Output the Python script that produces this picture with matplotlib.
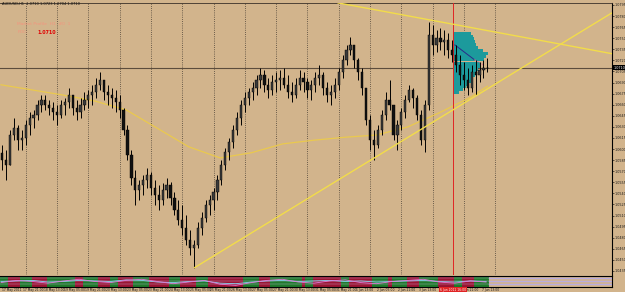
import matplotlib
matplotlib.use('Agg')
import matplotlib.pyplot as plt
import matplotlib.transforms as mtransforms
import numpy as np

# ---------------- data ----------------
symbol = "AUDUSD,H1"
header_quotes = ["1.0710", "1.0723", "1.0704", "1.0710"]

bar_hours = 3            # each candle covers 3 hourly bars
first_open = 1.0595

highs = [1.0605,1.0599,1.0626,1.0642,1.0633,1.0626,1.0639,1.0650,1.0653,1.0666,
         1.0673,1.0673,1.0666,1.0664,1.0660,1.0666,1.0669,1.0683,1.0673,1.0666,
         1.0669,1.0677,1.0680,1.0687,1.0696,1.0704,1.0694,1.0687,1.0683,1.0680,
         1.0673,1.0656,1.0633,1.0599,1.0572,1.0558,1.0565,1.0574,1.0569,1.0558,
         1.0551,1.0554,1.0561,1.0555,1.0542,1.0531,1.0524,1.0511,1.0490,1.0477,
         1.0501,1.0515,1.0531,1.0538,1.0547,1.0565,1.0585,1.0601,1.0615,1.0633,
         1.0650,1.0666,1.0677,1.0683,1.0691,1.0700,1.0710,1.0707,1.0696,1.0700,
         1.0704,1.0707,1.0710,1.0700,1.0691,1.0696,1.0707,1.0704,1.0696,1.0694,
         1.0704,1.0714,1.0704,1.0691,1.0687,1.0696,1.0710,1.0727,1.0741,1.0752,
         1.0741,1.0723,1.0710,1.0680,1.0646,1.0626,1.0633,1.0653,1.0677,1.0694,
         1.0660,1.0639,1.0656,1.0673,1.0687,1.0683,1.0673,1.0653,1.0666,1.0772,
         1.0768,1.0761,1.0764,1.0761,1.0757,1.0748,1.0741,1.0727,1.0718,1.0710,
         1.0714,1.0721,1.0718,1.0721,1.0723]

lows = [1.0572,1.0558,1.0578,1.0612,1.0599,1.0599,1.0605,1.0619,1.0628,1.0639,
        1.0650,1.0653,1.0646,1.0639,1.0633,1.0642,1.0646,1.0656,1.0646,1.0639,
        1.0642,1.0653,1.0656,1.0660,1.0669,1.0680,1.0666,1.0660,1.0656,1.0650,
        1.0642,1.0619,1.0585,1.0551,1.0524,1.0531,1.0538,1.0547,1.0538,1.0524,
        1.0517,1.0524,1.0534,1.0524,1.0511,1.0497,1.0484,1.0470,1.0457,1.0439,
        1.0466,1.0484,1.0501,1.0511,1.0517,1.0531,1.0551,1.0572,1.0585,1.0601,
        1.0619,1.0633,1.0650,1.0660,1.0666,1.0673,1.0683,1.0677,1.0669,1.0673,
        1.0677,1.0680,1.0683,1.0669,1.0664,1.0669,1.0680,1.0677,1.0669,1.0666,
        1.0677,1.0687,1.0673,1.0664,1.0660,1.0669,1.0680,1.0696,1.0714,1.0727,
        1.0710,1.0694,1.0673,1.0633,1.0599,1.0585,1.0601,1.0619,1.0639,1.0653,
        1.0612,1.0599,1.0626,1.0642,1.0664,1.0656,1.0639,1.0605,1.0596,1.0653,
        1.0727,1.0731,1.0734,1.0727,1.0723,1.0718,1.0704,1.0687,1.0680,1.0673,
        1.0677,1.0673,1.0691,1.0696,1.0704]

closes = [1.0585,1.0578,1.0619,1.0628,1.0612,1.0615,1.0633,1.0642,1.0646,1.0660,
          1.0666,1.0660,1.0656,1.0650,1.0646,1.0660,1.0664,1.0673,1.0656,1.0650,
          1.0660,1.0666,1.0673,1.0677,1.0687,1.0694,1.0677,1.0673,1.0669,1.0664,
          1.0653,1.0626,1.0592,1.0561,1.0545,1.0551,1.0558,1.0565,1.0547,1.0538,
          1.0531,1.0545,1.0551,1.0534,1.0517,1.0504,1.0493,1.0477,1.0466,1.0470,
          1.0493,1.0507,1.0524,1.0531,1.0542,1.0558,1.0578,1.0596,1.0610,1.0626,
          1.0642,1.0660,1.0669,1.0677,1.0683,1.0694,1.0700,1.0687,1.0680,1.0691,
          1.0694,1.0696,1.0687,1.0677,1.0673,1.0687,1.0696,1.0691,1.0680,1.0687,
          1.0696,1.0700,1.0683,1.0673,1.0677,1.0687,1.0704,1.0721,1.0734,1.0741,
          1.0721,1.0704,1.0683,1.0639,1.0612,1.0605,1.0626,1.0646,1.0666,1.0660,
          1.0619,1.0633,1.0650,1.0666,1.0680,1.0669,1.0646,1.0612,1.0660,1.0754,
          1.0741,1.0750,1.0745,1.0748,1.0734,1.0727,1.0714,1.0700,1.0694,1.0683,
          1.0704,1.0700,1.0707,1.0710,1.0710]

# moving average at hour positions
ma_hours = [0, 24, 48, 72, 96, 120, 144, 168, 192, 216, 240, 264, 288, 312, 336, 360, 373]
ma_values = [1.0687, 1.0680, 1.0673, 1.0665, 1.0653, 1.0628, 1.0603, 1.0588, 1.0595,
             1.0607, 1.0612, 1.0616, 1.0619, 1.0630, 1.0649, 1.0670, 1.0685]

# trend lines: two anchor points each (hour, price)
trend_down = [(258, 1.0798), (346.6, 1.0769)]
trend_up = [(148, 1.0439), (346.6, 1.0653)]

# session start marker / market profile
profile_start_hour = 346.6
profile_prices = [1.0757, 1.0753, 1.0749, 1.0745, 1.0741, 1.0737, 1.0733, 1.0729, 1.0725,
                  1.0721, 1.0716, 1.0712, 1.0708, 1.0704, 1.0700, 1.0696, 1.0692, 1.0688,
                  1.0684, 1.0680, 1.0676]
profile_counts = [14, 15, 16, 17, 18, 19, 23, 27, 25, 24, 21, 21, 19, 18, 17, 15, 14, 12, 10, 8, 5]
profile_bin = 0.0004
poc_line_hours = [348, 363]
poc_line_prices = [1.0741, 1.0721]
poc_dash_hours = [363, 370]
poc_dash_prices = [1.0721, 1.0714]

last_price = 1.0710

# x-axis labels every 16 hourly bars
xtick_labels = ["17 May 2011", "17 May 21:00", "18 May 13:00", "19 May 05:00", "19 May 21:00",
                "20 May 13:00", "23 May 05:00", "23 May 21:00", "24 May 13:00", "25 May 05:00",
                "25 May 21:00", "26 May 13:00", "27 May 05:00", "27 May 21:00", "30 May 13:00",
                "31 May 05:00", "31 May 21:00", "1 Jun 13:00", "2 Jun 05:00", "2 Jun 21:00",
                "3 Jun 13:00", "6 Jun 05:00", "6 Jun 21:00", "7 Jun 13:00"]
xtick_step = 16
day_break_hours = [19, 43, 67, 91, 115, 139, 163, 187, 211, 235, 259, 283, 307, 331, 355, 379]
cursor_label = "6 Jun 2011 16:00"

ytick_top = 1.0795
ytick_step = 0.0015
ytick_count = 25

# indicator panel state per candle (G = green, R = red)
ind_states = ("GGRRRGGGRR" "RRGGGGGGGR" "RGGGGRRRGG" "RRRRGGGGRR" "RRRGGGRRRR"
              "GGGRRRRRRR" "RRGGGGRRRG" "GGGGGGGRGG" "RRRRRRRGGR" "RRRRRGGGGR"
              "GGGGRRRGGG" "GGRRRRGGRR" "RGGGG")
ind_line_hours = list(range(0, 373, 12))
ind_cyan = [0.5, 0.55, 0.6, 0.45, 0.5, 0.6, 0.55, 0.5, 0.65, 0.6, 0.45, 0.4, 0.5, 0.55, 0.35, 0.3,
            0.45, 0.55, 0.6, 0.5, 0.55, 0.6, 0.5, 0.55, 0.45, 0.5, 0.55, 0.6, 0.5, 0.45, 0.55, 0.5]
ind_pink = [0.4, 0.6, 0.5, 0.35, 0.55, 0.7, 0.5, 0.4, 0.6, 0.7, 0.5, 0.3, 0.45, 0.6, 0.25, 0.15,
            0.4, 0.6, 0.7, 0.45, 0.35, 0.55, 0.65, 0.4, 0.3, 0.5, 0.6, 0.7, 0.45, 0.35, 0.55, 0.45]
ind_levels = [0.3, 0.55, 0.8]

# ---------------- style ----------------
BG = '#D2B48C'
YEL = '#F2DC4A'
W, H = 625, 292
fig = plt.figure(figsize=(W / 100, H / 100), dpi=100, facecolor=BG)

px_per_hour = 1.304
x0_hour = -1.0 / px_per_hour
x1_hour = (612 - 1) / px_per_hour

ax = fig.add_axes([0, 1 - 275 / H, 612 / W, 272 / H], facecolor=BG)
ax.set_xlim(x0_hour, x1_hour)
ax.set_ylim(1.04295, 1.07977)

n = len(closes)
centers = np.arange(n) * bar_hours + 1
opens = np.array([first_open] + closes[:-1])
c = np.array(closes)
hi = np.maximum(np.array(highs), np.maximum(opens, c))
lo = np.minimum(np.array(lows), np.minimum(opens, c))
data_end = centers[-1] + bar_hours / 2

# grid
for h in day_break_hours:
    ax.axvline(h, color='#4a4036', lw=0.6, ls=(0, (1, 1.6)), zorder=1)

# moving average
ax.plot(ma_hours, ma_values, color='#EAC94E', lw=0.9, zorder=2)

# market profile
ax.barh(profile_prices, profile_counts, height=profile_bin, left=profile_start_hour,
        color='#1C9A9C', edgecolor='none', zorder=3)
ax.plot(poc_line_hours, poc_line_prices, color='#2a2a8a', lw=0.7, zorder=5)
ax.plot(poc_dash_hours, poc_dash_prices, color='#e07090', lw=0.7, ls=(0, (2, 1)), zorder=5)

# cursor line
ax.axvline(profile_start_hour, color='#E02424', lw=0.7, zorder=4)

# last price line
ax.axhline(last_price, color='#5c4c3c', lw=0.8, zorder=2)

# candles
ax.vlines(centers, lo, hi, color='black', lw=0.7, zorder=6)
bw = 1.7
for xc, o, cl in zip(centers, opens, c):
    bottom = min(o, cl)
    height = max(abs(cl - o), 0.00003)
    fc = '#111111' if cl < o else '#3a3a3a'
    ax.bar(xc, height, width=bw, bottom=bottom, color=fc, edgecolor='black',
           lw=0.3, zorder=7)

# trend lines (rays to the right edge)
for (ha, pa), (hb, pb) in (trend_down, trend_up):
    slope = (pb - pa) / (hb - ha)
    ax.plot([ha, x1_hour], [pa, pa + slope * (x1_hour - ha)], color=YEL, lw=1.0,
            zorder=8, solid_capstyle='butt')

# axes cosmetics
for s in ['left', 'bottom']:
    ax.spines[s].set_visible(False)
ax.spines['right'].set_color('black')
ax.spines['right'].set_linewidth(0.8)
ax.spines['top'].set_color('#3a3028')
ax.spines['top'].set_linewidth(0.6)
ax.set_xticks([])
yt = [round(ytick_top - ytick_step * i, 4) for i in range(ytick_count)]
ax.yaxis.tick_right()
ax.set_yticks(yt)
ax.set_yticklabels([f"{v:.4f}" for v in yt], fontsize=2.4, color='#1a1a1a')
ax.tick_params(axis='y', length=1.2, width=0.4, pad=0.8, color='black')

trans = mtransforms.blended_transform_factory(ax.transAxes, ax.transData)
ax.text(1.002, last_price, f"{last_price:.4f}", transform=trans, ha='left', va='center',
        fontsize=2.4, color='white', clip_on=False, zorder=10,
        bbox=dict(facecolor='black', edgecolor='none', pad=0.5))

# header and annotation text
fig.text(2 / W, 1 - 4 / H, symbol + "  " + " ".join(header_quotes), fontsize=2.6,
         color='#111111', va='center', ha='left')
fig.text(17 / W, 1 - 24 / H, "Market Profile  H1  #0  1", fontsize=3.2,
         color='#F4957E', va='center', ha='left')
fig.text(18 / W, 1 - 32 / H, "POC:", fontsize=3.2, color='#F4957E', va='center', ha='left')
fig.text(37 / W, 1 - 32 / H, f"{last_price:.4f}", fontsize=3.4, color='#E00000',
         fontweight='bold', va='center', ha='left')

# ---------------- indicator panel ----------------
ax2 = fig.add_axes([0, 1 - 287 / H, 612 / W, 11 / H], facecolor=BG)
ax2.set_xlim(x0_hour, x1_hour)
ax2.set_ylim(0, 1)
cols = ['#1F7A2C' if s == 'G' else '#9A1533' for s in ind_states]
ax2.bar(centers, 1, width=bar_hours, bottom=0, color=cols, edgecolor='none', zorder=1)
for yv in ind_levels:
    ax2.plot([x0_hour, data_end], [yv, yv], color='#C9B6E0', lw=0.35, alpha=0.7, zorder=2)
    ax2.plot([data_end, x1_hour], [yv, yv], color='#B9ACE0', lw=1.0, zorder=2)
ax2.plot(ind_line_hours, ind_cyan, color='#86D4F0', lw=0.6, zorder=3)
ax2.plot(ind_line_hours, ind_pink, color='#E07AD8', lw=0.6, zorder=3)
ax2.spines['left'].set_visible(False)
for s in ['top', 'bottom', 'right']:
    ax2.spines[s].set_color('black')
    ax2.spines[s].set_linewidth(0.8)
ax2.set_xticks([])
ax2.set_yticks([])

t2 = mtransforms.blended_transform_factory(ax2.transData, ax2.transAxes)
for i, lab in enumerate(xtick_labels):
    h = i * xtick_step
    ax2.text(h + 0.6, -0.1, lab, transform=t2, fontsize=2.2, color='#1a1a1a',
             ha='left', va='top', clip_on=False)
ax2.text(profile_start_hour - 10, -0.08, cursor_label, transform=t2, fontsize=2.2,
         color='white', ha='left', va='top', clip_on=False, zorder=10,
         bbox=dict(facecolor='#E02424', edgecolor='none', pad=0.4))

fig.savefig('out.png', dpi=100, facecolor=BG)
